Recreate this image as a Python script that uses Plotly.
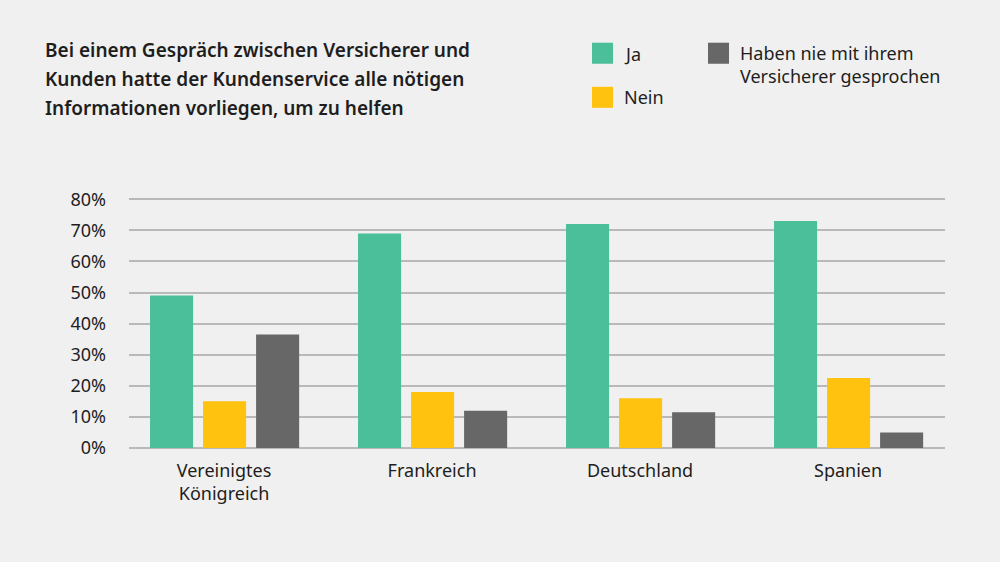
import plotly.graph_objects as go

categories = ["Vereinigtes<br>Königreich", "Frankreich", "Deutschland", "Spanien"]
series_names = ["Ja", "Nein", "Haben nie mit ihrem<br>Versicherer gesprochen"]
ja = [49, 69, 72, 73]
nein = [15, 18, 16, 22.5]
nie = [36.5, 12, 11.5, 5]
tick_vals = [0, 10, 20, 30, 40, 50, 60, 70, 80]
tick_text = ["0%", "10%", "20%", "30%", "40%", "50%", "60%", "70%", "80%"]
title_lines = [
    "Bei einem Gespräch zwischen Versicherer und",
    "Kunden hatte der Kundenservice alle nötigen",
    "Informationen vorliegen, um zu helfen",
]

colors = ["#4BBF99", "#FFC20F", "#676767"]
BG = "#F0F0F0"
FONT = "Noto Sans"
TXT = "#1E1E1E"

fig = go.Figure()
xs = list(range(len(categories)))
bw = 0.207
step = 0.255
for i, (name, vals) in enumerate(zip(series_names, [ja, nein, nie])):
    fig.add_trace(go.Bar(
        x=xs, y=vals, name=name,
        marker=dict(color=colors[i], line=dict(width=0)),
        width=bw, offset=-0.356 + i * step,
        showlegend=False, hoverinfo="y",
    ))

fig.update_layout(
    width=1000, height=562,
    paper_bgcolor=BG, plot_bgcolor=BG,
    margin=dict(l=129, r=55, t=193, b=114),
    font=dict(family=FONT, size=18, color=TXT),
    xaxis=dict(
        range=[-0.457, 3.466], tickvals=xs, ticktext=categories,
        showgrid=False, zeroline=False, showline=False,
        ticks="", ticklabelstandoff=10, tickfont=dict(size=18, color=TXT),
    ),
    yaxis=dict(
        range=[0, 82], tickvals=tick_vals, ticktext=tick_text,
        showgrid=True, gridcolor="#B9B9B9", gridwidth=1.5,
        zeroline=True, zerolinecolor="#B9B9B9", zerolinewidth=1.5,
        showline=False, ticks="", ticklabelstandoff=22,
        tickfont=dict(size=18, color=TXT),
    ),
)

# title as three lines
for k, line in enumerate(title_lines):
    fig.add_annotation(
        text=line, xref="paper", yref="paper",
        x=(43 - 129) / 816, y=(447.5 - (50 + k * 29)) / 254.5,
        xanchor="left", yanchor="middle", showarrow=False,
        font=dict(family=FONT, size=19, color=TXT, weight=600), align="left",
    )

# legend built from shapes + annotations
legend_pos = [(592, 43), (592, 87), (708, 43)]
text_y = [54, 97, 65]
for i, ((lx, ly), name) in enumerate(zip(legend_pos, series_names)):
    fig.add_shape(
        type="rect", xref="paper", yref="paper",
        x0=(lx - 129) / 816, x1=(lx + 21 - 129) / 816,
        y0=(447.5 - ly) / 254.5, y1=(447.5 - ly - 21) / 254.5,
        fillcolor=colors[i], line=dict(width=0),
    )
    fig.add_annotation(
        text=name, xref="paper", yref="paper",
        x=(lx + 30 - 129) / 816, y=(447.5 - text_y[i]) / 254.5,
        xanchor="left", yanchor="middle", showarrow=False, align="left",
        font=dict(family=FONT, size=18, color=TXT),
    )

fig.write_html("out.html", config={"displayModeBar": False},
               post_script="document.body.style.margin='0';")
